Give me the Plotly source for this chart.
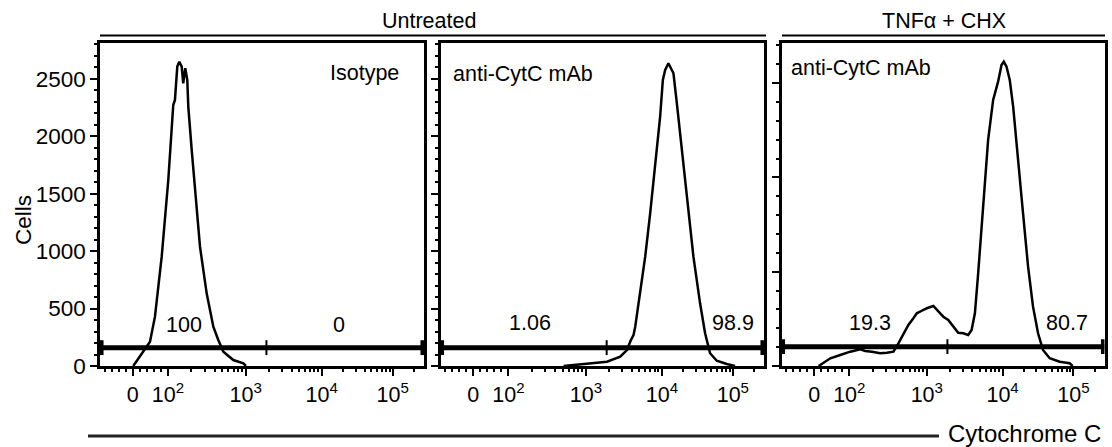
import numpy as np
import plotly.graph_objects as go

# ---------------- data ----------------
# x values are display-channel positions on the biexponential-like axis
# (1 unit ~ one decade; 10^2 -> 2.0, 10^3 -> 3.003, 10^4 -> 3.984, 10^5 -> 4.90)
iso_x = [1.552, 1.768, 1.832, 1.919, 2.004, 2.068, 2.090, 2.120, 2.146, 2.177, 2.197,
         2.223, 2.249, 2.262, 2.306, 2.348, 2.413, 2.499, 2.585, 2.649, 2.714, 2.843,
         2.972, 3.006]
iso_y = [0, 212, 430, 952, 1620, 2273, 2317, 2607, 2650, 2607, 2462,
         2593, 2491, 2259, 1882, 1533, 1039, 633, 342, 226, 125, 52,
         23, 0]

unt_x = [2.714, 3.015, 3.274, 3.445, 3.532, 3.583, 3.617, 3.639, 3.703, 3.768, 3.832,
         3.897, 3.961, 3.996, 4.026, 4.068, 4.099, 4.133, 4.177, 4.241, 4.306, 4.391,
         4.477, 4.542, 4.606, 4.693, 4.822, 4.929]
unt_y = [0, 17, 37, 81, 139, 226, 270, 342, 633, 952, 1330,
         1765, 2172, 2491, 2578, 2637, 2593, 2549, 2288, 1882, 1446, 952,
         546, 285, 111, 46, 17, 0]

tnf_x = [1.604, 1.755, 1.884, 2.013, 2.142, 2.206, 2.293, 2.400, 2.486, 2.572, 2.636,
         2.701, 2.765, 2.830, 2.874, 2.938, 3.003, 3.088, 3.132, 3.217, 3.281, 3.346,
         3.410, 3.475, 3.539, 3.583, 3.626, 3.668, 3.733, 3.797, 3.862, 3.926, 3.970,
         4.000, 4.035, 4.077, 4.121, 4.185, 4.249, 4.314, 4.378, 4.443, 4.507, 4.594,
         4.723, 4.852, 4.890]
tnf_y = [0, 82, 117, 152, 177, 159, 152, 135, 141, 152, 241,
         347, 435, 506, 559, 586, 612, 636, 594, 523, 488, 417,
         353, 347, 329, 382, 559, 983, 1689, 2397, 2821, 3015, 3192,
         3227, 3174, 3033, 2750, 2220, 1619, 1053, 629, 347, 170, 82,
         46, 29, 0]

panel_titles = ["Isotype", "anti-CytC mAb", "anti-CytC mAb"]
gate_split = 3.27
gate_level = [160, 160, 205]
gate_pct_left = ["100", "1.06", "19.3"]
gate_pct_right = ["0", "98.9", "80.7"]
pct_x_left = [2.206, 2.284, 2.271]
pct_x_right = [4.21, 4.897, 4.819]
pct_y = [357, 375, 456]

tick_values = [0, 100, 1000, 10000, 100000]
tick_labels = ["0", "10<sup>2</sup>", "10<sup>3</sup>", "10<sup>4</sup>", "10<sup>5</sup>"]

# ---------------- axis transform ----------------
LOG_ANCH = [2, 3, 4, 5, 6]
POS_ANCH = [2.0, 3.003, 3.984, 4.90, 5.816]


def disp(v):
    v = float(v)
    if v < 100:
        return 1.545 + v * 0.455 / 100.0
    return float(np.interp(np.log10(v), LOG_ANCH, POS_ANCH))


tickpos = [disp(v) for v in tick_values]
minor_vals = [-80, -60, -40, -20, 20, 40, 60, 80]
for dec in [100, 1000, 10000, 100000]:
    for m in range(2, 10):
        minor_vals.append(m * dec)
minorpos = [disp(v) for v in minor_vals]

XR = [1.123, 5.303]
YR = [[0, 2813], [0, 2813], [0, 3425]]

W, H = 1112, 447
xdom_px = [(100, 424), (440.5, 764), (781.5, 1104.5)]
ydom_px = (43, 366)

FONT = "Liberation Sans, Arial, sans-serif"
LBL = 21.5

fig = go.Figure()
series = [(iso_x, iso_y), (unt_x, unt_y), (tnf_x, tnf_y)]

for i, (xs, ys) in enumerate(series):
    xa = "x" if i == 0 else f"x{i+1}"
    ya = "y" if i == 0 else f"y{i+1}"
    # histogram
    fig.add_trace(go.Scatter(x=xs, y=ys, mode="lines", xaxis=xa, yaxis=ya,
                             line=dict(color="black", width=2.5), showlegend=False,
                             hoverinfo="skip"))
    g = gate_level[i]
    cap = (YR[i][1] - YR[i][0]) * 0.023
    # gate bar
    fig.add_trace(go.Scatter(x=[XR[0], XR[1]], y=[g, g], mode="lines", xaxis=xa, yaxis=ya,
                             line=dict(color="black", width=5), showlegend=False,
                             hoverinfo="skip"))
    for xc, wdt in [(XR[0] + 0.02, 4), (XR[1] - 0.02, 4), (gate_split, 2)]:
        fig.add_trace(go.Scatter(x=[xc, xc], y=[g - cap, g + cap], mode="lines",
                                 xaxis=xa, yaxis=ya,
                                 line=dict(color="black", width=wdt), showlegend=False,
                                 hoverinfo="skip"))
    # percentages
    for tx, txt in [(pct_x_left[i], gate_pct_left[i]), (pct_x_right[i], gate_pct_right[i])]:
        fig.add_annotation(x=tx, y=pct_y[i], xref=xa, yref=ya, text=txt, showarrow=False,
                           font=dict(size=LBL, family=FONT, color="black"),
                           xanchor="center", yanchor="middle")

    x0, x1 = xdom_px[i]
    xaxis = dict(domain=[x0 / W, x1 / W], range=XR, anchor=ya, automargin=False,
                 showline=True, linecolor="black", linewidth=2.5, mirror=True,
                 ticks="outside", ticklen=7, tickwidth=2, tickcolor="black",
                 tickmode="array", tickvals=tickpos, ticktext=tick_labels,
                 tickfont=dict(size=21.5, family=FONT, color="black"),
                 minor=dict(tickmode="array", tickvals=minorpos, ticks="outside",
                            ticklen=3, tickwidth=1.5, tickcolor="black", showgrid=False),
                 showgrid=False, zeroline=False, fixedrange=True)
    yaxis = dict(domain=[1 - ydom_px[1] / H, 1 - ydom_px[0] / H], range=YR[i], anchor=xa,
                 automargin=False,
                 showline=True, linecolor="black", linewidth=2.5, mirror=True,
                 ticks="outside", ticklen=7, tickwidth=2, tickcolor="black",
                 showticklabels=(i == 0),
                 tickmode="linear", tick0=0, dtick=(500 if i < 2 else 1000),
                 tickfont=dict(size=22.5, family=FONT, color="black"),
                 minor=dict(dtick=(100 if i < 2 else 200), ticks="outside", ticklen=3,
                            tickwidth=1.5, tickcolor="black", showgrid=False),
                 showgrid=False, zeroline=False, fixedrange=True)
    key = "" if i == 0 else str(i + 1)
    fig.update_layout(**{f"xaxis{key}": xaxis, f"yaxis{key}": yaxis})

# panel titles
fig.add_annotation(x=364 / W, y=1 - 73 / H, xref="paper", yref="paper", text=panel_titles[0],
                   showarrow=False, font=dict(size=LBL, family=FONT, color="black"),
                   xanchor="center", yanchor="middle")
fig.add_annotation(x=451 / W, y=1 - 74 / H, xref="paper", yref="paper", text=panel_titles[1],
                   showarrow=False, font=dict(size=LBL, family=FONT, color="black"),
                   xanchor="left", yanchor="middle")
fig.add_annotation(x=789 / W, y=1 - 68 / H, xref="paper", yref="paper", text=panel_titles[2],
                   showarrow=False, font=dict(size=LBL, family=FONT, color="black"),
                   xanchor="left", yanchor="middle")

# group headers
fig.add_annotation(x=429 / W, y=1 - 21 / H, xref="paper", yref="paper", text="Untreated",
                   showarrow=False, font=dict(size=LBL, family=FONT, color="black"),
                   xanchor="center", yanchor="middle")
fig.add_annotation(x=944 / W, y=1 - 21 / H, xref="paper", yref="paper", text="TNFα + CHX",
                   showarrow=False, font=dict(size=LBL, family=FONT, color="black"),
                   xanchor="center", yanchor="middle")
fig.add_shape(type="line", xref="paper", yref="paper", x0=100 / W, x1=766 / W,
              y0=1 - 35.5 / H, y1=1 - 35.5 / H, line=dict(color="black", width=2))
fig.add_shape(type="line", xref="paper", yref="paper", x0=782 / W, x1=1105 / W,
              y0=1 - 35.5 / H, y1=1 - 35.5 / H, line=dict(color="black", width=2))

# axis titles
fig.add_annotation(x=23 / W, y=1 - 220 / H, xref="paper", yref="paper", text="Cells",
                   showarrow=False, textangle=-90,
                   font=dict(size=22.5, family=FONT, color="black"),
                   xanchor="center", yanchor="middle")
fig.add_shape(type="line", xref="paper", yref="paper", x0=88 / W, x1=939 / W,
              y0=1 - 436 / H, y1=1 - 436 / H, line=dict(color="#222222", width=3))
fig.add_annotation(x=946 / W, y=1 - 433 / H, xref="paper", yref="paper", text="Cytochrome C",
                   showarrow=False, font=dict(size=24, family=FONT, color="black"),
                   xanchor="left", yanchor="middle")

fig.update_layout(width=W, height=H, margin=dict(l=0, r=0, t=0, b=0),
                  paper_bgcolor="white", plot_bgcolor="white", showlegend=False)

fig.write_html("out.html", config={"displayModeBar": False},
               post_script="document.body.style.margin='0';document.body.style.overflow='hidden';")
